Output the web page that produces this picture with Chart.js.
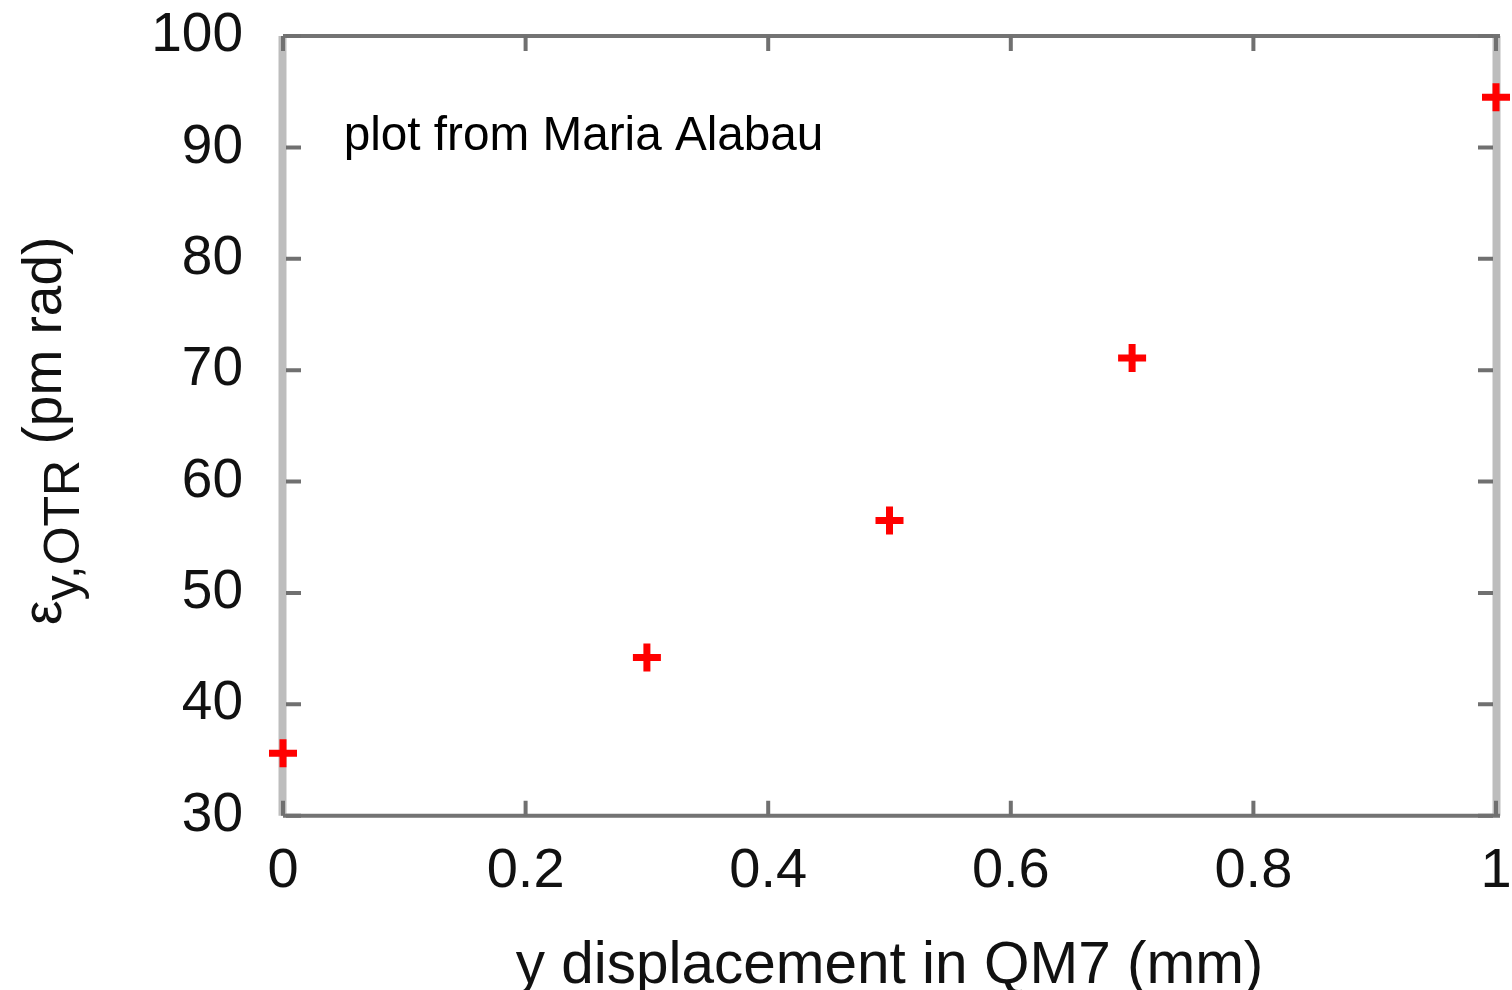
<!DOCTYPE html>
<html>
<head>
<meta charset="utf-8">
<script src="https://cdn.jsdelivr.net/npm/chart.js@4/dist/chart.umd.min.js"></script>
<style>
  html, body { margin: 0; padding: 0; background: #ffffff; }
  #wrap { width: 1512px; height: 990px; position: relative; }
</style>
</head>
<body>
<div id="wrap"><canvas id="c"></canvas></div>
<script>
// ---- data ----
const xValues = [0, 0.3, 0.5, 0.7, 1.0];
const yValues = [35.6, 44.2, 56.5, 71.1, 94.5];
const xTickValues = [0, 0.2, 0.4, 0.6, 0.8, 1];
const yTickValues = [30, 40, 50, 60, 70, 80, 90, 100];
const xTitle = 'y displacement in QM7 (mm)';
const yTitleMain = 'ε';
const yTitleSub = 'y,OTR';
const yTitleRest = ' (pm rad)';
const noteText = 'plot from Maria Alabau';
const notePos = { x: 0.05, y: 89.74 };

const FONT = '"Liberation Sans", Arial, Helvetica, sans-serif';

const points = xValues.map((x, i) => ({ x: x, y: yValues[i] }));

const framePlugin = {
  id: 'frame',
  beforeDatasetsDraw(chart) {
    const { ctx, chartArea: a, scales } = chart;
    const xs = scales.x, ys = scales.y;
    ctx.save();
    // vertical frame lines (light gray)
    ctx.strokeStyle = '#bdbdbd';
    ctx.lineWidth = 8;
    ctx.beginPath();
    ctx.moveTo(a.left - 0.5, a.top); ctx.lineTo(a.left - 0.5, a.bottom);
    ctx.moveTo(a.right + 0.5, a.top); ctx.lineTo(a.right + 0.5, a.bottom);
    ctx.stroke();
    // horizontal frame lines (dark gray)
    ctx.strokeStyle = '#737373';
    ctx.lineWidth = 4;
    ctx.beginPath();
    ctx.moveTo(a.left, a.top); ctx.lineTo(a.right + 4, a.top);
    ctx.moveTo(a.left, a.bottom); ctx.lineTo(a.right + 4, a.bottom);
    ctx.stroke();
    // inward ticks
    const tl = 15;
    ctx.strokeStyle = '#707070';
    ctx.lineWidth = 4;
    ctx.beginPath();
    xTickValues.forEach(v => {
      const px = xs.getPixelForValue(v);
      ctx.moveTo(px, a.bottom); ctx.lineTo(px, a.bottom - tl);
      ctx.moveTo(px, a.top); ctx.lineTo(px, a.top + tl);
    });
    yTickValues.forEach(v => {
      const py = ys.getPixelForValue(v);
      ctx.moveTo(a.left + 3, py); ctx.lineTo(a.left + 3 + tl, py);
      ctx.moveTo(a.right - 3, py); ctx.lineTo(a.right - 3 - tl, py);
    });
    ctx.stroke();
    ctx.restore();
  },
  afterDraw(chart) {
    const { ctx, chartArea: a, scales } = chart;
    ctx.save();
    // annotation note
    ctx.fillStyle = '#000000';
    ctx.font = '47.7px ' + FONT;
    ctx.textAlign = 'left';
    ctx.textBaseline = 'alphabetic';
    ctx.fillText(noteText, scales.x.getPixelForValue(notePos.x), scales.y.getPixelForValue(notePos.y));
    // y-axis title with subscript
    const cy = (a.top + a.bottom) / 2 + 5;
    ctx.translate(61, cy);
    ctx.rotate(-Math.PI / 2);
    ctx.fillStyle = '#111111';
    const mainFont = '55px ' + FONT;
    const subFont = '50px ' + FONT;
    ctx.font = mainFont; const w1 = ctx.measureText(yTitleMain).width;
    ctx.font = subFont; const w2 = ctx.measureText(yTitleSub).width;
    ctx.font = mainFont; const w3 = ctx.measureText(yTitleRest).width;
    let x0 = -(w1 + w2 + w3) / 2;
    ctx.textAlign = 'left';
    ctx.font = mainFont; ctx.fillText(yTitleMain, x0, 0); x0 += w1;
    ctx.font = subFont; ctx.fillText(yTitleSub, x0, 18); x0 += w2;
    ctx.font = mainFont; ctx.fillText(yTitleRest, x0, 0);
    ctx.restore();
  }
};

new Chart(document.getElementById('c'), {
  type: 'scatter',
  data: {
    datasets: [{
      data: points,
      showLine: false,
      pointStyle: 'cross',
      pointRadius: 14,
      pointHoverRadius: 14,
      pointBorderWidth: 7,
      borderColor: '#ff0000',
      backgroundColor: '#ff0000',
      clip: false
    }]
  },
  options: {
    responsive: true,
    maintainAspectRatio: false,
    devicePixelRatio: 1,
    animation: false,
    events: [],
    layout: { autoPadding: false, padding: { top: 36, right: 16, left: 0, bottom: 0 } },
    plugins: { legend: { display: false }, tooltip: { enabled: false } },
    scales: {
      x: {
        type: 'linear', min: 0, max: 1,
        afterBuildTicks(s) { s.ticks = xTickValues.map(v => ({ value: v })); },
        afterFit(s) { s.height = 174.3; s.paddingLeft = 0; s.paddingRight = 0; },
        grid: { display: false, drawTicks: false, tickLength: 0 },
        border: { display: false },
        ticks: {
          padding: 28,
          color: '#111111',
          font: { family: FONT, size: 56, lineHeight: 1 },
          maxRotation: 0, autoSkip: false,
          callback: v => String(v)
        },
        title: {
          display: true, text: xTitle, color: '#111111',
          font: { family: FONT, size: 58.5, lineHeight: 0.8 },
          padding: { top: 0, bottom: 0 }
        }
      },
      y: {
        type: 'linear', min: 30, max: 100,
        afterBuildTicks(s) { s.ticks = yTickValues.map(v => ({ value: v })); },
        afterFit(s) { s.width = 283; s.paddingTop = 0; s.paddingBottom = 0; },
        grid: { display: false, drawTicks: false, tickLength: 0 },
        border: { display: false },
        ticks: {
          padding: 40,
          color: '#111111',
          font: { family: FONT, size: 55, lineHeight: 1 },
          autoSkip: false,
          callback: v => String(v)
        }
      }
    }
  },
  plugins: [framePlugin]
});
</script>
</body>
</html>
